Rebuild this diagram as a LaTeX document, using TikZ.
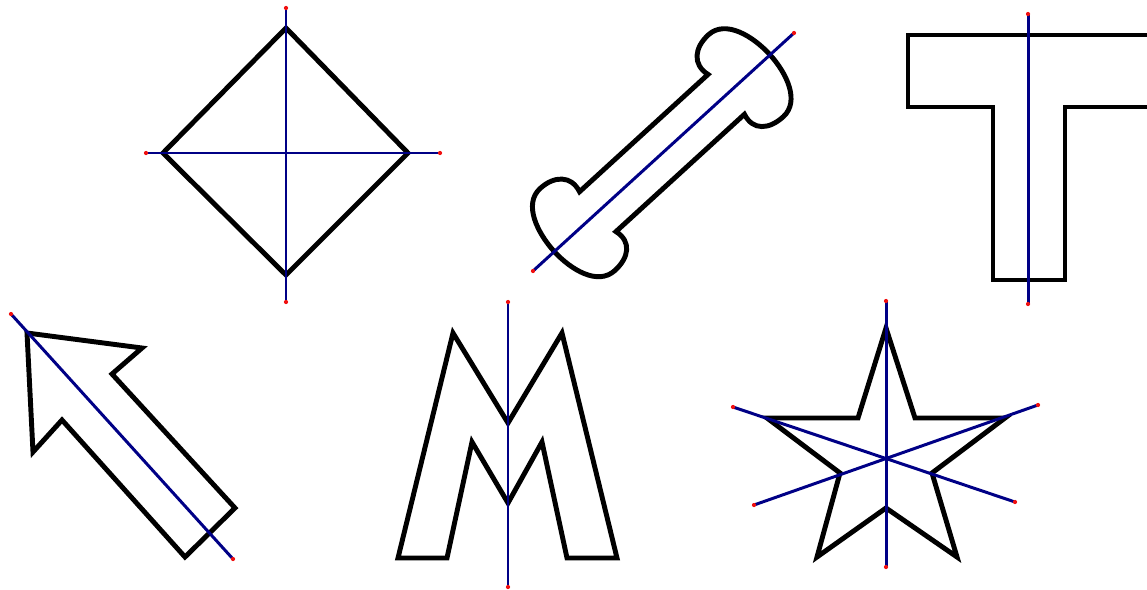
\documentclass[tikz,border=0pt]{standalone}
\usepackage{xcolor}
\usepackage{tikz}
\definecolor{axisNavy}{HTML}{000086}
\definecolor{tipRed}{HTML}{F01010}
\tikzset{
  outline/.style={draw=black, line width=2.8pt, line join=miter},
  symaxis/.style={draw=axisNavy, line width=1.7pt},
  % --- small red marks at the axis ends ---
  axisend/.style={fill=tipRed},
}

\begin{document}
\begin{tikzpicture}[x=0.02cm,y=-0.02cm]
  \useasboundingbox (0,0) rectangle (1147,589);
  \clip (0,0) rectangle (1147,589);

  % shapes
  \draw[outline] (286,28) -- (408,153) -- (286,275) -- (163,153) -- cycle;
  \begin{scope}[shift={(662,153)}, rotate=42.4]
    \draw[outline] (-87,27) -- (87,27)
      .. controls (82,45) and (95,55) .. (114,55)
      .. controls (137,55) and (146,25) .. (146,0)
      .. controls (146,-25) and (137,-56) .. (114,-56)
      .. controls (95,-56) and (82,-45) .. (87,-27)
      -- (-87,-27)
      .. controls (-82,-45) and (-95,-56) .. (-114,-56)
      .. controls (-137,-56) and (-146,-25) .. (-146,0)
      .. controls (-146,25) and (-137,55) .. (-114,55)
      .. controls (-95,55) and (-82,45) .. (-87,27) -- cycle;
  \end{scope}
  \draw[outline] (908,35) -- (1150,35) -- (1150,107) -- (1065,107) -- (1065,280)
    -- (993,280) -- (993,107) -- (908,107) -- cycle;
  \draw[outline] (27,333) -- (142,348) -- (112,374) -- (235,508) -- (185,557)
    -- (62,420) -- (33,452) -- cycle;
  \draw[outline] (398,558) -- (453,333) -- (508,423) -- (562,333) -- (617,558)
    -- (567,558) -- (542,442) -- (508,503) -- (472,442) -- (447,558) -- cycle;
  \draw[outline] (886,328) -- (915,418) -- (1005,418) -- (932,473) -- (957,557)
    -- (886,508) -- (817,557) -- (840,473) -- (767,418) -- (858,418) -- cycle;

  % axis ends
  \coordinate (dv1) at (286,8);   \coordinate (dv2) at (286,302);
  \coordinate (dh1) at (146,153); \coordinate (dh2) at (440,153);
  \coordinate (b1) at (533,271);  \coordinate (b2) at (794,33);
  \coordinate (t1) at (1028,14);  \coordinate (t2) at (1028,304);
  \coordinate (a1) at (11,314);   \coordinate (a2) at (233,559);
  \coordinate (m1) at (508,302);  \coordinate (m2) at (508,587);
  \coordinate (s1) at (886,301);  \coordinate (s2) at (886,567);
  \coordinate (s3) at (733,407);  \coordinate (s4) at (1015,502);
  \coordinate (s5) at (754,505);  \coordinate (s6) at (1038,405);

  \foreach \p/\q in {dv1/dv2,dh1/dh2,b1/b2,t1/t2,a1/a2,m1/m2,s1/s2,s3/s4,s5/s6} {
    \draw[symaxis] (\p) -- (\q);
    \fill[axisend] (\p) circle (1.2pt);
    \fill[axisend] (\q) circle (1.2pt);
  }
\end{tikzpicture}
\end{document}
